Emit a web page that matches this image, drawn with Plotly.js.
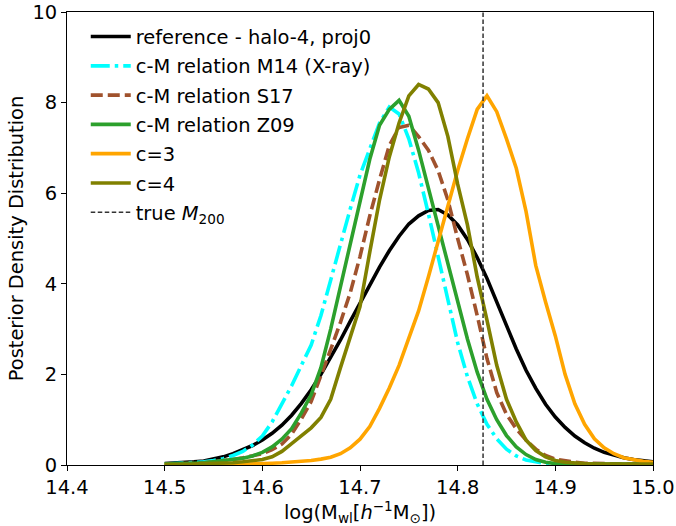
<!DOCTYPE html>
<html>
<head>
<meta charset="utf-8">
<script src="https://cdn.plot.ly/plotly-3.0.1.min.js"></script>
<style>html,body{margin:0;padding:0;background:#fff;}#chart{width:676px;height:526px;}</style>
</head>
<body>
<div id="chart"></div>
<script>
const logM = [14.50,14.51,14.52,14.53,14.54,14.55,14.56,14.57,14.58,14.59,
  14.60,14.61,14.62,14.63,14.64,14.65,14.66,14.67,14.68,14.69,
  14.70,14.71,14.72,14.73,14.74,14.75,14.76,14.77,14.78,14.79,
  14.80,14.81,14.82,14.83,14.84,14.85,14.86,14.87,14.88,14.89,
  14.90,14.91,14.92,14.93,14.94,14.95,14.96,14.97,14.98,14.99,15.00];

const reference = [0.03,0.04,0.05,0.07,0.09,0.13,0.18,0.25,0.33,0.43,
  0.55,0.70,0.88,1.10,1.36,1.66,2.00,2.37,2.76,3.17,
  3.58,3.98,4.37,4.73,5.05,5.32,5.50,5.62,5.64,5.52,
  5.30,4.98,4.58,4.12,3.60,3.07,2.56,2.09,1.69,1.34,
  1.06,0.83,0.64,0.49,0.37,0.28,0.21,0.16,0.12,0.09,0.07];

const cmM14 = [0.02,0.03,0.04,0.05,0.07,0.10,0.14,0.21,0.30,0.44,
  0.64,0.95,1.35,1.75,2.20,2.65,3.30,4.10,4.90,5.65,
  6.40,7.00,7.55,7.90,7.75,7.20,6.45,5.55,4.60,3.60,
  2.70,1.95,1.35,0.90,0.58,0.35,0.20,0.11,0.06,0.03,
  0.02,0.01,0.01,0.01,0.01,0.01,0.01,0.01,0.01,0.01,0.01];

const cmS17 = [0.02,0.02,0.03,0.04,0.05,0.07,0.09,0.12,0.16,0.20,
  0.25,0.34,0.46,0.68,1.02,1.40,1.95,2.55,3.15,3.80,
  4.60,5.50,6.30,7.05,7.45,7.50,7.25,6.95,6.50,5.85,
  5.00,4.20,3.30,2.35,1.60,1.12,0.80,0.55,0.35,0.21,
  0.13,0.09,0.06,0.04,0.03,0.02,0.02,0.02,0.02,0.02,0.02];

const cmZ09 = [0.02,0.02,0.03,0.04,0.05,0.07,0.09,0.12,0.15,0.20,
  0.28,0.40,0.57,0.80,1.15,1.55,2.15,3.00,3.95,4.90,
  5.85,6.75,7.50,7.85,8.05,7.70,6.95,6.10,5.30,4.45,
  3.60,2.78,2.05,1.45,1.00,0.65,0.40,0.23,0.12,0.06,
  0.03,0.02,0.02,0.02,0.02,0.02,0.02,0.02,0.02,0.02,0.02];

const c3 = [0.00,0.00,0.00,0.01,0.01,0.01,0.01,0.01,0.02,0.02,
  0.03,0.04,0.05,0.06,0.08,0.10,0.13,0.17,0.25,0.38,
  0.57,0.85,1.25,1.70,2.20,2.80,3.40,4.15,4.95,5.75,
  6.50,7.20,7.85,8.15,7.80,7.20,6.55,5.60,4.40,3.60,
  2.85,2.00,1.35,0.90,0.58,0.38,0.25,0.16,0.11,0.08,0.06];

const c4 = [0.01,0.01,0.02,0.02,0.03,0.03,0.04,0.05,0.07,0.09,
  0.12,0.18,0.30,0.47,0.65,0.82,1.05,1.45,2.15,2.80,
  3.50,4.70,5.85,6.80,7.55,8.15,8.40,8.30,8.00,7.25,
  6.20,5.30,4.15,3.20,2.20,1.45,0.95,0.55,0.32,0.18,
  0.10,0.06,0.04,0.03,0.02,0.02,0.02,0.02,0.02,0.02,0.02];

const trueM200 = 14.826;
const yRange = [0, 10];
const xTicks = [14.4, 14.5, 14.6, 14.7, 14.8, 14.9, 15.0];
const yTicks = [0, 2, 4, 6, 8, 10];

const names = ['reference - halo-4, proj0', 'c-M relation M14 (X-ray)', 'c-M relation S17',
  'c-M relation Z09', 'c=3', 'c=4', 'true <i>M</i><sub>200</sub>'];

function line(y, name, color, dash, g) {
  return {x: logM, y: y, name: name, type: 'scatter', mode: 'lines', legendgroup: g,
    line: {color: color, width: 3.6, dash: dash}};
}

const traces = [
  line(reference, names[0], '#000000', 'solid', 'a'),
  line(cmM14, names[1], '#00FFFF', '19px,5px,3.5px,5px', 'b'),
  line(cmS17, names[2], '#A0522D', '12px,5px', 'c'),
  line(cmZ09, names[3], '#2CA02C', 'solid', 'd'),
  line(c3, names[4], '#FFA500', 'solid', 'e'),
  line(c4, names[5], '#808000', 'solid', 'f'),
  {x: [trueM200, trueM200], y: yRange, name: names[6], type: 'scatter', mode: 'lines', legendgroup: 'g',
    line: {color: '#333333', width: 1.5, dash: '4.5px,2.5px'}}
];

const fs = 19.44;
const font = {family: 'DejaVu Sans, sans-serif', size: fs, color: '#000'};

const layout = {
  width: 676, height: 526,
  margin: {l: 67, r: 23, t: 12, b: 61},
  paper_bgcolor: '#fff', plot_bgcolor: '#fff',
  font: font,
  showlegend: true,
  legend: {x: 0.032, y: 0.988, xanchor: 'left', yanchor: 'top', bgcolor: 'rgba(0,0,0,0)',
    font: {family: 'DejaVu Sans, sans-serif', size: fs, color: '#000'},
    tracegroupgap: 1, itemwidth: 40},
  xaxis: {range: [14.4, 15.0], tickvals: xTicks, ticktext: xTicks.map(v => v.toFixed(1)),
    showgrid: false, zeroline: false, showline: true, mirror: true, linecolor: '#000', linewidth: 1,
    ticks: 'outside', ticklen: 5, tickcolor: '#000', tickfont: font,
    title: {text: 'log(M<sub>wl</sub>[<i>h</i><sup>−1</sup>M<sub>⊙</sub>])', font: font, standoff: 3}},
  yaxis: {range: yRange, tickvals: yTicks, showgrid: false, zeroline: false, showline: true, mirror: true,
    linecolor: '#000', linewidth: 1, ticks: 'outside', ticklen: 5, tickcolor: '#000', tickfont: font,
    title: {text: 'Posterior Density Distribution', font: font, standoff: 3}}
};

Plotly.newPlot('chart', traces, layout, {displayModeBar: false, staticPlot: true});
</script>
</body>
</html>
